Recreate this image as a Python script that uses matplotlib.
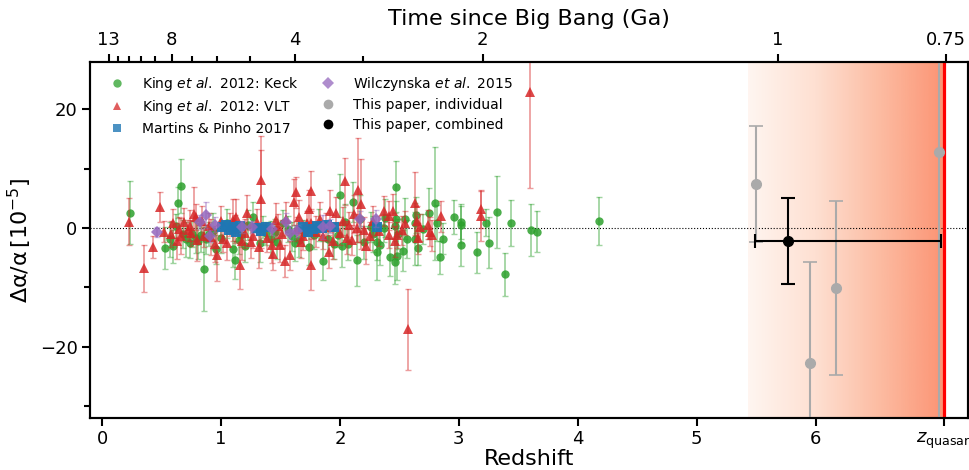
import numpy as np
import matplotlib.pyplot as plt
from matplotlib.lines import Line2D

plt.rcParams['mathtext.default'] = 'regular'

# King et al. 2012, Keck: redshift, delta alpha / alpha (1e-5), error
keck_z = [0.235, 0.53, 0.57, 0.60, 0.62, 0.64, 0.66, 0.71, 0.74, 0.76, 0.79, 0.83,
          0.86, 0.87, 0.93, 0.96, 1.05, 1.10, 1.12, 1.17, 1.23, 1.27, 1.33, 1.38,
          1.45, 1.47, 1.52, 1.60, 1.62, 1.70, 1.78, 1.82, 1.86, 1.90, 1.95, 2.00,
          2.04, 2.07, 2.11, 2.14, 2.20, 2.26, 2.31, 2.31, 2.37, 2.38, 2.42, 2.46,
          2.46, 2.47, 2.47, 2.48, 2.49, 2.53, 2.55, 2.56, 2.63, 2.63, 2.64, 2.66,
          2.70, 2.75, 2.80, 2.82, 2.84, 2.87, 2.96, 3.02, 3.02, 3.02, 3.15, 3.23,
          3.25, 3.32, 3.39, 3.44, 3.605, 3.66, 4.18,
          0.68, 0.81, 0.90, 1.00, 1.15, 1.20, 1.35, 1.42, 1.56, 1.66, 1.74, 1.98,
          2.02, 2.17, 2.28, 2.34]
keck_da = [2.6, -3.4, -1.9, -3.1, 0.3, 4.3, 7.1, -1.9, -2.6, -1.0, -1.6, -1.2,
           -6.9, -1.9, -0.5, -3.6, 0.8, -3.6, -5.4, -1.2, 0.5, 1.9, -2.5, -0.9,
           -0.6, -2.4, 0.9, -1.4, -2.5, -0.8, -1.2, 0.5, -5.5, -1.8, -2.7, 5.5,
           1.0, -2.7, 4.4, -5.4, -2.4, 0.2, -2.3, -4.0, 0.0, 1.7, -4.8, -5.8,
           0.4, 7.0, 1.6, -4.7, -1.0, -3.8, 1.6, -1.8, 0.9, -1.8, 2.2, -3.3,
           -0.2, 2.5, 4.2, 0.9, -4.9, -1.8, 1.9, 1.1, 0.6, -2.9, -4.1, 0.9,
           -2.5, 2.7, -7.8, 0.9, -0.3, -0.6, 1.2,
           -1.0, -2.2, -1.0, -1.6, -2.0, -3.0, 0.2, -1.8, -0.2, -2.0, -3.2, -1.2,
           -3.0, 1.6, -1.0, -2.8]
keck_err = [5.3, 3.5, 3.0, 2.8, 2.0, 2.6, 4.6, 3.0, 2.5, 2.2, 2.6, 2.8,
            7.0, 2.5, 3.0, 2.5, 2.4, 3.0, 3.2, 2.0, 2.5, 2.5, 3.2, 2.0,
            2.2, 2.8, 2.2, 2.5, 3.0, 2.2, 2.3, 2.7, 3.3, 2.4, 2.5, 3.7,
            3.0, 2.6, 3.4, 4.3, 2.8, 2.5, 3.0, 4.7, 2.4, 3.2, 3.2, 3.6,
            2.2, 4.3, 3.0, 4.0, 2.5, 3.4, 3.5, 3.2, 3.3, 4.5, 3.0, 3.0,
            2.5, 4.3, 9.5, 3.0, 2.8, 2.6, 2.9, 3.0, 3.2, 3.5, 3.5, 2.3,
            4.3, 6.1, 3.6, 3.9, 4.4, 3.5, 4.0,
            2.4, 3.0, 2.0, 2.6, 2.4, 2.8, 1.8, 3.0, 2.2, 2.8, 3.0, 2.0,
            3.5, 4.0, 3.0, 3.5]

# King et al. 2012, VLT
vlt_z = [0.23, 0.35, 0.43, 0.49, 0.52, 0.58, 0.65, 0.66, 0.69, 0.72, 0.74, 0.75,
         0.77, 0.79, 0.80, 0.86, 0.90, 0.95, 0.97, 1.00, 1.02, 1.08, 1.12, 1.13,
         1.16, 1.20, 1.22, 1.25, 1.27, 1.30, 1.335, 1.335, 1.39, 1.43, 1.44, 1.48,
         1.51, 1.54, 1.55, 1.58, 1.61, 1.63, 1.64, 1.66, 1.69, 1.72, 1.755, 1.755,
         1.76, 1.80, 1.83, 1.86, 1.91, 1.92, 1.97, 2.00, 2.03, 2.04, 2.08, 2.10,
         2.14, 2.15, 2.18, 2.22, 2.25, 2.28, 2.37, 2.41, 2.41, 2.45, 2.46, 2.48,
         2.55, 2.57, 2.63, 2.65, 2.67, 2.66, 2.74, 2.76, 2.77, 2.85, 3.19, 3.19,
         3.60,
         0.60, 0.63, 0.84, 0.92, 1.05, 1.10, 1.18, 1.32, 1.46, 1.50, 1.67, 1.74,
         1.88, 1.94, 2.06, 2.12, 2.20, 2.33, 2.52]
vlt_da = [1.1, -6.8, -3.2, 3.5, -0.6, -1.0, -0.2, -1.3, 1.0, -0.4, 0.4, -0.8,
          2.4, 1.8, -2.0, -1.3, 0.4, -2.7, -4.6, 1.2, -1.9, 0.6, -0.2, 1.9,
          -6.3, -0.9, 2.6, -2.4, -1.4, 1.0, 8.1, 4.9, -1.6, -2.9, -4.4, 0.4,
          -1.0, -5.5, 1.6, -4.6, 4.4, 6.0, -0.2, 1.8, -1.3, 0.8, 6.3, -6.2,
          0.8, -0.6, 1.6, -1.3, -4.0, 2.9, 2.6, -0.9, 1.2, 7.9, 0.6, -2.0,
          0.0, 6.4, 4.0, -3.0, -1.3, 1.2, 2.9, 2.1, -1.2, 2.9, -2.2, -1.2,
          0.9, -17.1, 4.2, 1.2, 0.1, -1.7, 0.6, -0.6, -1.2, 2.0, 3.2, 2.1,
          23.0,
          0.8, -2.2, 1.2, -1.5, -2.6, 1.4, -2.2, -3.2, 1.3, -2.8, -2.4, 3.2,
          0.2, -2.2, -1.6, 2.3, -0.4, -0.5, -0.4]
vlt_err = [3.9, 4.0, 1.8, 2.5, 1.8, 2.2, 2.0, 3.0, 2.4, 1.8, 2.6, 2.2,
           4.6, 2.2, 3.5, 1.9, 2.2, 3.0, 4.3, 2.5, 2.2, 2.0, 2.4, 3.0,
           4.0, 2.4, 3.0, 2.6, 2.0, 2.2, 7.5, 8.2, 2.4, 3.0, 2.6, 2.0,
           2.4, 2.7, 2.8, 2.5, 3.8, 2.6, 2.0, 3.0, 2.4, 2.0, 3.4, 4.3,
           2.5, 2.6, 2.8, 2.3, 2.8, 3.5, 2.6, 2.0, 2.4, 4.0, 2.1, 2.5,
           2.3, 8.8, 7.6, 3.0, 2.4, 2.6, 2.5, 2.4, 2.2, 2.8, 2.6, 2.2,
           2.0, 6.8, 5.3, 2.5, 2.2, 2.6, 2.5, 2.4, 2.6, 2.6, 3.2, 4.2,
           16.2,
           2.5, 3.0, 2.6, 3.0, 2.8, 3.5, 3.2, 3.6, 3.0, 3.0, 2.6, 3.2,
           2.4, 3.0, 2.8, 3.2, 2.2, 2.6, 2.4]

# Martins & Pinho 2017
mp_z = [1.01, 1.04, 1.07, 1.10, 1.13, 1.16, 1.30, 1.34, 1.38, 1.69, 1.73, 1.77,
        1.81, 1.85, 1.89, 1.95, 2.31]
mp_da = [0.2, 0.5, -0.3, 0.1, -0.6, 0.3, 0.0, -0.5, 0.2, 0.1, -0.7, -0.2,
         0.4, 0.0, 0.5, 0.2, 0.1]
mp_err = [0.5, 0.4, 0.6, 0.5, 0.4, 0.5, 0.6, 0.5, 0.4, 0.5, 0.6, 0.4,
          0.5, 0.4, 0.6, 0.5, 0.6]

# Wilczynska et al. 2015
w15_z = [0.46, 0.82, 0.87, 0.91, 0.95, 1.18, 1.26, 1.43, 1.55, 1.58, 1.64, 1.86,
         1.92, 2.17, 2.30]
w15_da = [-0.7, 1.0, 2.2, -1.3, 0.6, 0.2, 0.2, -0.1, 1.0, -0.8, -0.5, 0.2,
          0.3, 1.6, 1.6]
w15_err = [0.8, 1.2, 2.2, 1.0, 1.2, 1.0, 1.0, 1.0, 1.5, 1.2, 1.0, 2.0,
           1.2, 1.2, 1.5]

# This paper
ind_z = [5.50, 5.95, 6.17, 7.04]
ind_da = [7.4, -22.8, -10.1, 12.8]
ind_err = [9.8, 17.0, 14.7, 50.0]
comb_z = 5.77
comb_da = -2.2
comb_yerr = 7.2
comb_xerr = [[0.28], [1.28]]

z_quasar = 7.075
shade_start = 5.43

# top axis: time since Big Bang
age_major = [13, 8, 4, 2, 1, 0.75]
age_minor = [12, 11, 10, 9, 7, 6, 5, 3]


def age_to_z(t, H0=67.7, Om=0.31):
    # flat LCDM, t in Gyr
    hubble_time = 977.8 / H0
    OL = 1 - Om
    k = 3 * np.sqrt(OL) / (2 * hubble_time)
    a = (np.sinh(np.asarray(t) * k) / np.sqrt(OL / Om)) ** (2 / 3)
    return 1 / a - 1


fig, ax = plt.subplots(figsize=(9.69, 4.70), dpi=100)
fig.subplots_adjust(left=0.093, right=0.999, top=0.868, bottom=0.111)

xlim = (-0.1, 7.28)
ylim = (-32, 28)

# shaded region towards the quasar
grad = np.linspace(0, 0.37, 256).reshape(1, -1)
ax.imshow(grad, cmap='Reds', vmin=0, vmax=1, aspect='auto',
          extent=[shade_start, z_quasar, ylim[0], ylim[1]], zorder=0)

ax.axhline(0, color='k', ls=':', lw=0.8, zorder=1)

eb_kw = dict(fmt='none', capsize=2, elinewidth=1.3, capthick=1.0, alpha=0.45)
ax.errorbar(keck_z, keck_da, yerr=keck_err, ecolor='#2ca02c', zorder=2, **eb_kw)
ax.plot(keck_z, keck_da, 'o', color='#2ca02c', ms=6, mew=0, alpha=0.85, zorder=2)

ax.errorbar(vlt_z, vlt_da, yerr=vlt_err, ecolor='#d62728', zorder=3, **eb_kw)
ax.plot(vlt_z, vlt_da, '^', color='#d62728', ms=6.5, mew=0, alpha=0.85, zorder=3)

ax.errorbar(mp_z, mp_da, yerr=mp_err, ecolor='#1f77b4', zorder=4, **eb_kw)
ax.plot(mp_z, mp_da, 's', color='#1f77b4', ms=7, mew=0, alpha=0.95, zorder=4)

ax.errorbar(w15_z, w15_da, yerr=w15_err, ecolor='#9467bd', zorder=5, **eb_kw)
ax.plot(w15_z, w15_da, 'D', color='#9467bd', ms=6.5, mew=0, alpha=0.85, zorder=5)

ax.axvline(z_quasar, color='red', lw=2.3, zorder=6)

ax.errorbar(ind_z, ind_da, yerr=ind_err, fmt='o', color='#aaaaaa', ms=7,
            capsize=5, elinewidth=1.5, capthick=1.2, zorder=7)
ax.errorbar(comb_z, comb_da, yerr=comb_yerr, xerr=comb_xerr, fmt='o', color='k',
            ms=7, capsize=5, elinewidth=1.5, capthick=1.5, zorder=8)

ax.set_xlim(xlim)
ax.set_ylim(ylim)

ax.set_xticks([0, 1, 2, 3, 4, 5, 6, z_quasar])
ax.set_xticklabels(['0', '1', '2', '3', '4', '5', '6', r'$\mathit{z}_{\rm quasar}$'])
ax.set_yticks([-20, 0, 20])
ax.set_yticks([-30, -10, 10], minor=True)
ax.tick_params(axis='both', which='major', direction='out', length=6, width=1.5,
               labelsize=13, pad=3)
ax.tick_params(axis='y', which='minor', direction='out', length=4.5, width=1.5)
ax.set_xlabel('Redshift', fontsize=16, labelpad=-1)
ax.set_ylabel(r'$\Delta\alpha/\alpha\,[10^{-5}]$', fontsize=16)

for sp in ax.spines.values():
    sp.set_linewidth(1.5)

# time since Big Bang
ax2 = ax.twiny()
ax2.set_xlim(xlim)
ax2.set_xticks(age_to_z(age_major))
ax2.set_xticklabels(['13', '8', '4', '2', '1', '0.75'])
ax2.set_xticks(age_to_z(age_minor), minor=True)
ax2.tick_params(which='major', direction='out', length=6, width=1.5, labelsize=13)
ax2.tick_params(which='minor', direction='out', length=4.5, width=1.5)
ax2.set_xlabel('Time since Big Bang (Ga)', fontsize=16, labelpad=4)
for sp in ax2.spines.values():
    sp.set_linewidth(1.5)

handles = [
    Line2D([], [], ls='none', marker='o', color='#2ca02c', ms=6, mew=0, alpha=0.75),
    Line2D([], [], ls='none', marker='^', color='#d62728', ms=6, mew=0, alpha=0.75),
    Line2D([], [], ls='none', marker='s', color='#1f77b4', ms=6, mew=0, alpha=0.8),
    Line2D([], [], ls='none', marker='D', color='#9467bd', ms=6, mew=0, alpha=0.75),
    Line2D([], [], ls='none', marker='o', color='#aaaaaa', ms=7, mew=0),
    Line2D([], [], ls='none', marker='o', color='k', ms=7, mew=0),
]
labels = [
    r'King $\it{et\ al.}$ 2012: Keck',
    r'King $\it{et\ al.}$ 2012: VLT',
    'Martins & Pinho 2017',
    r'Wilczynska $\it{et\ al.}$ 2015',
    'This paper, individual',
    'This paper, combined',
]
ax.legend(handles, labels, ncol=2, loc='upper left', frameon=False, fontsize=10,
          labelspacing=0.4, columnspacing=1.1, handletextpad=0.8)

fig.savefig('out.png', dpi=100)
